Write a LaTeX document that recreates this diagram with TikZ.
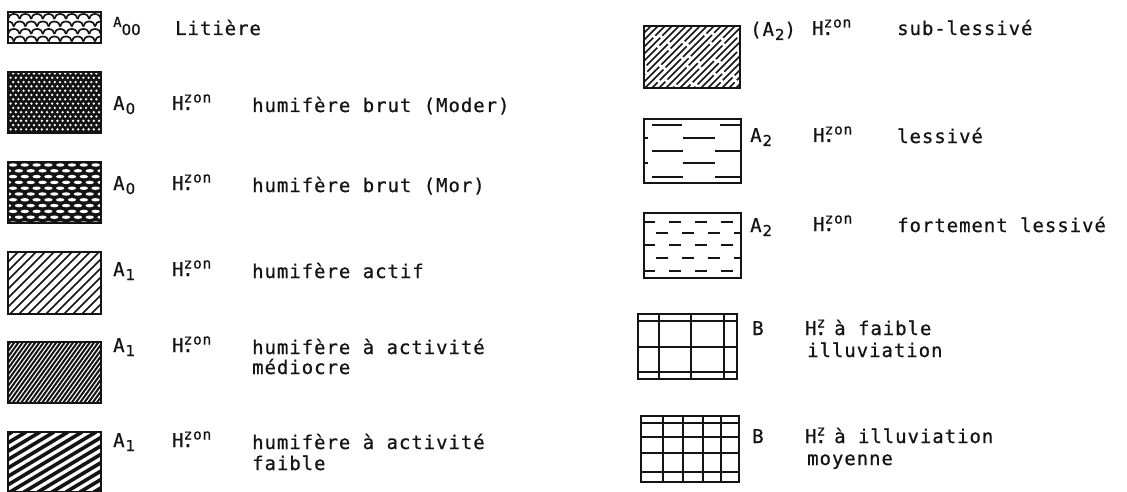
\documentclass[tikz,border=0pt]{standalone}
\usepackage{fontspec}
\newfontfamily\legendfont[LetterSpace=5,FakeBold=0.6]{DejaVu Sans Mono}
\newfontfamily\indexfont[FakeBold=0.6]{DejaVu Sans}
\usetikzlibrary{backgrounds}
\definecolor{legendink}{HTML}{141414}
\definecolor{legendpaper}{HTML}{FFFFFF}
% horizon sign: H with a dot below and the superscript over it
\newcommand\hzon[1]{H\rlap{\kern-1.5pt.}\raisebox{7.5pt}{\fontsize{14.5}{14.5}\selectfont #1}}
\newcommand\hsub[2]{#1\raisebox{-4pt}{\indexfont\fontsize{15}{15}\selectfont\kern1pt #2}}
\tikzset{
  legend swatch/.style={
    rectangle, draw=legendink, line width=2.4pt,
    anchor=north west, inner sep=0pt, outer sep=0pt
  },
  legend text/.style={
    anchor=base west, inner sep=0pt, text=legendink,
    font=\legendfont\fontsize{19}{21}\selectfont
  },
  hatch/.style={draw=legendink, line width=1.5pt}
}
\begin{document}
\begin{tikzpicture}[x=1pt,y=-1pt]
  \useasboundingbox (0,0) rectangle (1127,492);

  % swatches, left column
  \node[legend swatch,minimum width=93,minimum height=31] (litiere) at (8,12) {};
  \node[legend swatch,minimum width=93,minimum height=61] (moder) at (8,72) {};
  \node[legend swatch,minimum width=93,minimum height=61] (mor) at (8,162) {};
  \node[legend swatch,minimum width=93,minimum height=62] (actif) at (8,252) {};
  \node[legend swatch,minimum width=93,minimum height=61] (mediocre) at (8,342) {};
  \node[legend swatch,minimum width=93,minimum height=60] (faible) at (8,432) {};

  % swatches, right column
  \node[legend swatch,minimum width=96,minimum height=62] (sublessive) at (644,26) {};
  \node[legend swatch,minimum width=97,minimum height=64] (lessive) at (644,119) {};
  \node[legend swatch,minimum width=97,minimum height=65] (fortement) at (644,213) {};
  \node[legend swatch,minimum width=99,minimum height=65] (illufaible) at (638,314) {};
  \node[legend swatch,minimum width=98,minimum height=66] (illumoyenne) at (641,416) {};

  \begin{scope}[on background layer]
    \fill[legendpaper] (0,0) rectangle (1127,492);

    % scales of the litter
    \begin{scope}
      \clip (litiere.south west) rectangle (litiere.north east);
      \begin{scope}[shift={(litiere.north west)}]
        \foreach \r in {0,...,4}
          \foreach \i in {-1,...,8}
            \draw[hatch,line width=1.7pt] ({\i*11.6+mod(\r,2)*5.8},{\r*7.5+7})
              arc[start angle=180,end angle=360,x radius=5.8,y radius=5];
      \end{scope}
    \end{scope}

    % Moder: fine white dots on black
    \begin{scope}
      \clip (moder.south west) rectangle (moder.north east);
      \begin{scope}[shift={(moder.north west)}]
        \fill[legendink] (0,0) rectangle (93,61);
        \foreach \r in {0,...,14}
          \foreach \i in {0,...,18}
            \fill[legendpaper] ({\i*5.2+mod(\r,2)*2.6},{\r*4.3+1.5}) circle[radius=1.3];
      \end{scope}
    \end{scope}

    % Mor: white lenses on black
    \begin{scope}
      \clip (mor.south west) rectangle (mor.north east);
      \begin{scope}[shift={(mor.north west)}]
        \fill[legendink] (0,0) rectangle (93,61);
        \foreach \r in {0,...,10}
          \foreach \i in {-1,...,8}
            \fill[legendpaper] ({\i*11.8+mod(\r,2)*5.9+5},{\r*5.8+3})
              ellipse[x radius=4.2,y radius=1.7];
      \end{scope}
    \end{scope}

    \begin{scope}
      \clip (actif.south west) rectangle (actif.north east);
      \begin{scope}[shift={(actif.north west)}]
        \foreach \d in {-70,-61,...,100}
          \draw[hatch] (\d,62) -- ++(62,-62);
      \end{scope}
    \end{scope}

    \begin{scope}
      \clip (mediocre.south west) rectangle (mediocre.north east);
      \begin{scope}[shift={(mediocre.north west)}]
        \foreach \d in {-50,-45.8,...,100}
          \draw[hatch,line width=2pt] (\d,61) -- ++(44,-61);
      \end{scope}
    \end{scope}

    \begin{scope}
      \clip (faible.south west) rectangle (faible.north east);
      \begin{scope}[shift={(faible.north west)}]
        \foreach \d in {-110,-96,...,100}
          \draw[hatch,line width=3.6pt] (\d,60) -- ++(100,-60);
      \end{scope}
    \end{scope}

    % broken diagonals
    \begin{scope}
      \clip (sublessive.south west) rectangle (sublessive.north east);
      \begin{scope}[shift={(sublessive.north west)}]
        \foreach \d [count=\k,evaluate=\k as \ph using {mod(\k*\k*7+3*\k,33)}] in {-62,-55,...,100}
          \draw[hatch,line width=1.6pt,dash pattern=on 30pt off 3pt,dash phase=\ph pt]
            (\d,62) -- ++(62,-62);
      \end{scope}
    \end{scope}

    \begin{scope}
      \clip (lessive.south west) rectangle (lessive.north east);
      \begin{scope}[shift={(lessive.north west)}]
        \foreach \y/\a/\b in {6/8/38,6/76/98,19/-2/4,19/39/71,32/8/39,32/71/98,
                              44/-2/4,44/39/71,58/8/39,58/71/98}
          \draw[hatch,line width=2pt] (\a,\y) -- (\b,\y);
      \end{scope}
    \end{scope}

    \begin{scope}
      \clip (fortement.south west) rectangle (fortement.north east);
      \begin{scope}[shift={(fortement.north west)}]
        \foreach \y/\o in {9/0,20/13,32/0,45/13,58/0}
          \foreach \x in {0,26,52,78}
            \draw[hatch,line width=2pt] (\x+\o-1,\y) -- ++(12,0);
      \end{scope}
    \end{scope}

    % illuviation grids
    \begin{scope}[shift={(illufaible.north west)}]
      \foreach \x in {20.7,53,85.7}
        \draw[hatch,line width=2pt] (\x,0) -- (\x,65);
      \foreach \y in {7.3,32.7,58.3}
        \draw[hatch,line width=2pt] (0,\y) -- (99,\y);
    \end{scope}
    \begin{scope}[shift={(illumoyenne.north west)}]
      \foreach \x in {21.7,41.7,61.7,80}
        \draw[hatch,line width=2pt] (\x,0) -- (\x,66);
      \foreach \y in {7.3,20.7,37.3,55.7}
        \draw[hatch,line width=2pt] (0,\y) -- (98,\y);
    \end{scope}
  \end{scope}

  % labels, left column
  \node[legend text] (litiere sign) at (113,35) {\raisebox{8pt}{\fontsize{14}{14}\selectfont A}{\indexfont\fontsize{15}{15}\selectfont 00}};
  \node[legend text] (litiere name) at (175,35) {Litière};

  \node[legend text] (moder sign) at (113,110) {\hsub{A}{0}};
  \node[legend text] (moder horizon) at (172,110) {\hzon{zon}};
  \node[legend text] (moder name) at (252,112) {humifère brut (Moder)};

  \node[legend text] (mor sign) at (113,190) {\hsub{A}{0}};
  \node[legend text] (mor horizon) at (172,190) {\hzon{zon}};
  \node[legend text] (mor name) at (252,192) {humifère brut (Mor)};

  \node[legend text] (actif sign) at (113,276) {\hsub{A}{1}};
  \node[legend text] (actif horizon) at (172,276) {\hzon{zon}};
  \node[legend text] (actif name) at (252,278) {humifère actif};

  \node[legend text] (mediocre sign) at (113,352) {\hsub{A}{1}};
  \node[legend text] (mediocre horizon) at (172,352) {\hzon{zon}};
  \node[legend text] (mediocre name) at (252,354) {humifère à activité};
  \node[legend text] (mediocre more) at (252,374) {médiocre};

  \node[legend text] (faible sign) at (113,447) {\hsub{A}{1}};
  \node[legend text] (faible horizon) at (172,447) {\hzon{zon}};
  \node[legend text] (faible name) at (252,449) {humifère à activité};
  \node[legend text] (faible more) at (252,470) {faible};

  % labels, right column
  \node[legend text] (sublessive sign) at (750,36) {(\hsub{A}{2})};
  \node[legend text] (sublessive horizon) at (812,35) {\hzon{zon}};
  \node[legend text] (sublessive name) at (897,35) {sub-lessivé};

  \node[legend text] (lessive sign) at (750,142) {\hsub{A}{2}};
  \node[legend text] (lessive horizon) at (813,142) {\hzon{zon}};
  \node[legend text] (lessive name) at (897,143) {lessivé};

  \node[legend text] (fortement sign) at (750,232) {\hsub{A}{2}};
  \node[legend text] (fortement horizon) at (813,231) {\hzon{zon}};
  \node[legend text] (fortement name) at (897,232) {fortement lessivé};

  \node[legend text] (illufaible sign) at (752,335) {B};
  \node[legend text] (illufaible horizon) at (805,335) {\hzon{z}};
  \node[legend text] (illufaible name) at (834,335) {à faible};
  \node[legend text] (illufaible more) at (807,357) {illuviation};

  \node[legend text] (illumoyenne sign) at (752,443) {B};
  \node[legend text] (illumoyenne horizon) at (805,443) {\hzon{z}};
  \node[legend text] (illumoyenne name) at (834,443) {à illuviation};
  \node[legend text] (illumoyenne more) at (807,465) {moyenne};
\end{tikzpicture}
\end{document}
